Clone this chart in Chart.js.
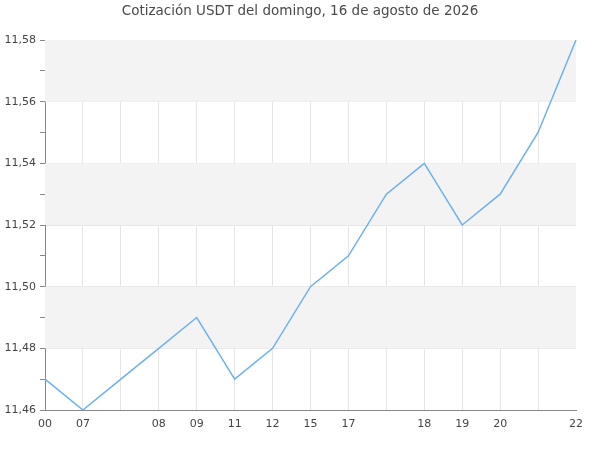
<!DOCTYPE html>
<html>
<head>
<meta charset="utf-8">
<script src="https://cdn.jsdelivr.net/npm/chart.js@4/dist/chart.umd.min.js"></script>
<style>
  html, body { margin: 0; padding: 0; background: #ffffff; }
  #wrap { width: 600px; height: 450px; }
</style>
</head>
<body>
<div id="wrap"><canvas id="chart"></canvas></div>
<script>
// hour labels as shown under the axis (blank where the picture shows none)
const hourLabels = ["00", "07", "", "08", "09", "11", "12", "15", "17", "", "18", "19", "20", "", "22"];
const usdtPrice = [11.47, 11.46, 11.47, 11.48, 11.49, 11.47, 11.48, 11.50, 11.51, 11.53, 11.54, 11.52, 11.53, 11.55, 11.58];
const titleText = "Cotización USDT del domingo, 16 de agosto de 2026";
const yMin = 11.46;
const yMax = 11.58;

function isMajor(value) {
  return Math.round(value * 100) % 2 === 0;
}

// grey bands between every other pair of labelled grid lines
const bandPlugin = {
  id: "bands",
  beforeDatasetsDraw(chart) {
    let ctx = chart.ctx;
    let area = chart.chartArea;
    let y = chart.scales.y;
    ctx.save();
    ctx.fillStyle = "#f3f3f3";
    for (let v = yMax; v > yMin + 0.001; v -= 0.04) {
      let top = y.getPixelForValue(v);
      let bottom = y.getPixelForValue(v - 0.02);
      ctx.fillRect(area.left, top, area.right - area.left, bottom - top);
    }
    ctx.restore();
  },
};

// title centred on the whole canvas, not on the padded box
const titlePlugin = {
  id: "pageTitle",
  afterDraw(chart) {
    let ctx = chart.ctx;
    ctx.save();
    ctx.font = "13.5px 'DejaVu Sans', sans-serif";
    ctx.fillStyle = "#4a4a4a";
    ctx.textAlign = "center";
    ctx.textBaseline = "middle";
    ctx.fillText(titleText, chart.width / 2, 11);
    ctx.restore();
  },
};

Chart.defaults.font.family = "'DejaVu Sans', sans-serif";
Chart.defaults.color = "#444444";

let config = {
  type: "line",
  data: {
    labels: hourLabels,
    datasets: [
      {
        label: "USDT",
        data: usdtPrice,
        borderColor: "#6cb0f5",
        borderWidth: 1.5,
        pointRadius: 0,
        tension: 0,
        fill: false,
      },
    ],
  },
  options: {
    responsive: true,
    maintainAspectRatio: false,
    animation: false,
    layout: {
      padding: { left: 0, right: 24, top: 40, bottom: 0 },
    },
    plugins: {
      legend: { display: false },
      tooltip: { enabled: false },
      title: { display: false },
    },
    scales: {
      x: {
        offset: false,
        grid: {
          color: function (c) {
            return c.index === hourLabels.length - 1 ? "rgba(0,0,0,0)" : "#e6e6e6";
          },
          drawTicks: false,
        },
        border: { color: "#888888" },
        ticks: {
          autoSkip: false,
          maxRotation: 0,
          padding: 8,
          font: { size: 11 },
        },
        afterFit: function (scale) {
          scale.height = 40;
        },
      },
      y: {
        min: yMin,
        max: yMax,
        grid: {
          color: function (c) {
            return isMajor(c.tick.value) ? "#e6e6e6" : "rgba(0,0,0,0)";
          },
          tickColor: "#888888",
          tickLength: 5,
        },
        border: { color: "#888888" },
        ticks: {
          stepSize: 0.01,
          padding: 4,
          font: { size: 11 },
          callback: function (value) {
            if (!isMajor(value)) return "";
            return value.toFixed(2).replace(".", ",");
          },
        },
        afterFit: function (scale) {
          scale.width = 45;
        },
      },
    },
  },
  plugins: [bandPlugin, titlePlugin],
};

let usdtChart = new Chart(document.getElementById("chart"), config);
</script>
</body>
</html>
